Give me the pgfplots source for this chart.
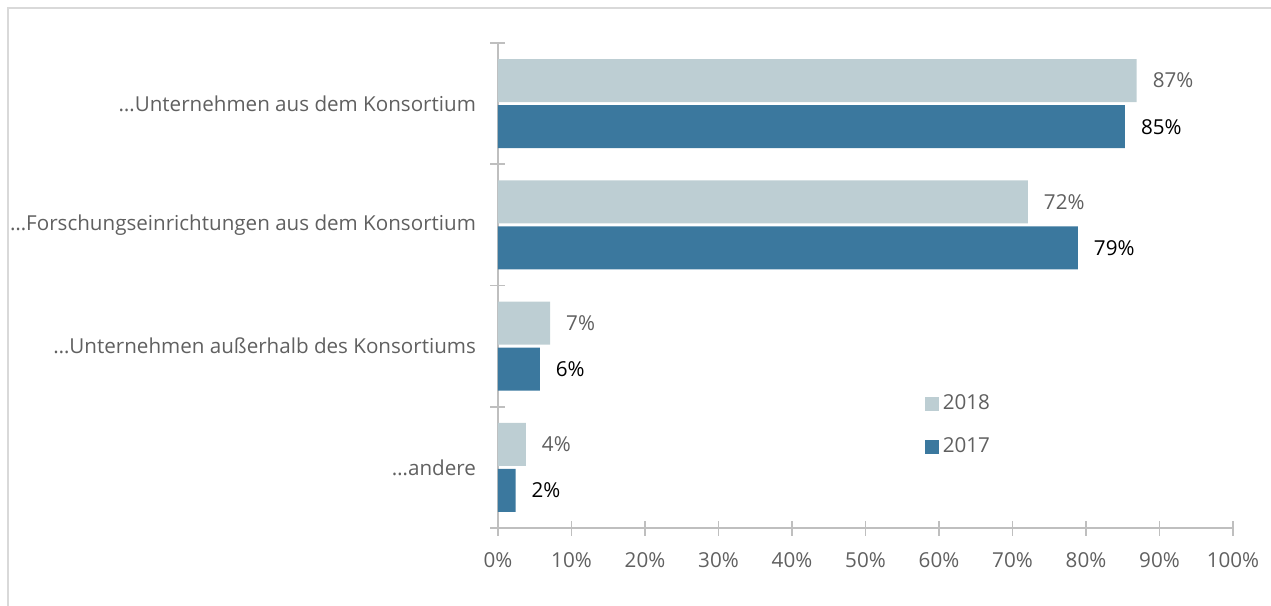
\documentclass[border=0pt]{standalone}
\usepackage{pgfplots}
\pgfplotsset{compat=1.18}
\usepackage{fontspec}
\setmainfont{Open Sans}
\definecolor{c18}{HTML}{BDCED3}
\definecolor{c17}{HTML}{3B789E}
\definecolor{txt}{HTML}{606060}
\definecolor{axc}{HTML}{BFBFBF}
\definecolor{frm}{HTML}{D9D9D9}
\newcommand{\lbl}{\fontsize{10.3}{12.5}\selectfont}
\pgfplotstableread{
y x
0 86.9
1 72.1
2 7.1
3 3.8
}\datA
\pgfplotstableread{
y x
0 85.3
1 78.9
2 5.7
3 2.4
}\datB
\begin{document}
\begin{tikzpicture}[x=1pt,y=1pt]
\useasboundingbox (0,0) rectangle (635.5,303);
\draw[frm, line width=1pt] (4,0) -- (4,299) -- (635.5,299);
\begin{axis}[
  at={(249pt,39pt)}, anchor=south west,
  scale only axis, width=367.5pt, height=242.5pt,
  xbar, y dir=reverse,
  xmin=0, xmax=100, ymin=-0.5, ymax=3.5,
  axis x line=bottom, axis y line=left,
  axis line style={axc, line width=0.8pt, -},
  tick style={axc, line width=0.8pt},
  tick align=center, major tick length=7.5pt,
  xtick={0,10,...,100},
  xticklabel={\pgfmathprintnumber{\tick}\%},
  /pgf/number format/assume math mode=true,
  x tick label style={font=\lbl, text=txt, yshift=-5pt},
  ytick={-0.5,0.5,1.5,2.5,3.5}, yticklabels={},
  extra y ticks={0,1,2,3},
  extra y tick labels={…Unternehmen aus dem Konsortium,…Forschungseinrichtungen aus dem Konsortium,…Unternehmen außerhalb des Konsortiums,…andere},
  extra y tick style={major tick length=0pt, yticklabel style={font=\lbl, text=txt, xshift=-7.5pt}},
  bar width=0.355,
  point meta=x,
  nodes near coords={\pgfmathprintnumber[fixed,precision=0]{\pgfplotspointmeta}\%},
  nodes near coords style={font=\lbl, anchor=west, xshift=4.5pt},
  legend style={at={(0.572,0.292)}, anchor=north west, draw=none, fill=none, font=\lbl, text=txt, row sep=8.5pt},
  legend cell align=left,
  legend image code/.code={\fill[#1] (0pt,-3.5pt) rectangle (7pt,3.5pt);},
  clip=false,
]
\addplot[fill=c18, draw=none, bar shift=-0.19, every node near coord/.append style={text=txt}] table[x=x,y=y] {\datA};
\addplot[fill=c17, draw=none, bar shift=0.19, every node near coord/.append style={text=black}] table[x=x,y=y] {\datB};
\legend{2018,2017}
\end{axis}
\end{tikzpicture}
\end{document}
